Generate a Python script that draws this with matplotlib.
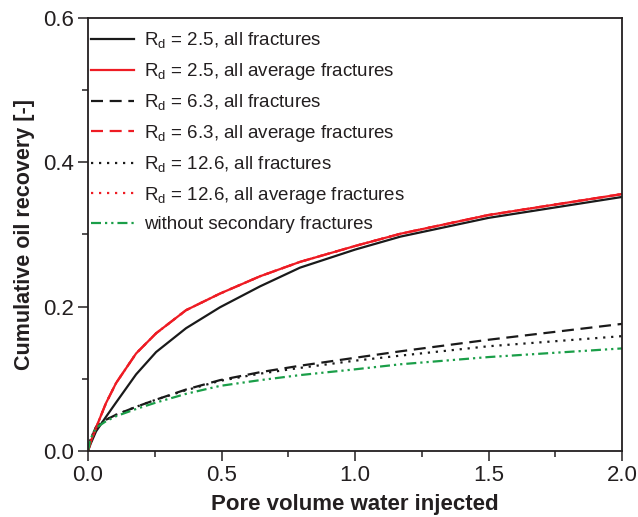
import numpy as np
import matplotlib
matplotlib.use('Agg')
import matplotlib.pyplot as plt
from matplotlib.ticker import MultipleLocator, FormatStrFormatter

plt.rcParams['font.family'] = ['Liberation Sans', 'DejaVu Sans']
plt.rcParams['mathtext.fontset'] = 'custom'
plt.rcParams['mathtext.rm'] = 'Liberation Sans'

#%% data
pv = [0.0, 0.01, 0.03, 0.067, 0.105, 0.18, 0.255, 0.367, 0.494, 0.644, 0.794, 1.0, 1.17, 1.5, 2.0]

rd25_all = [0.0, 0.010, 0.027, 0.047, 0.067, 0.106, 0.137, 0.170, 0.199, 0.228, 0.254, 0.279, 0.297, 0.323, 0.352]
rd25_avg = [0.0, 0.013, 0.032, 0.066, 0.094, 0.135, 0.163, 0.195, 0.218, 0.242, 0.262, 0.284, 0.301, 0.327, 0.356]
rd63_all = [0.0, 0.017, 0.033, 0.043, 0.050, 0.061, 0.071, 0.085, 0.098, 0.109, 0.118, 0.129, 0.138, 0.154, 0.176]
rd63_avg = rd25_avg
rd126_all = [0.0, 0.017, 0.033, 0.043, 0.050, 0.061, 0.071, 0.084, 0.097, 0.107, 0.115, 0.125, 0.132, 0.145, 0.159]
rd126_avg = rd25_avg
no_sec = [0.0, 0.017, 0.032, 0.041, 0.048, 0.058, 0.067, 0.079, 0.090, 0.098, 0.105, 0.113, 0.120, 0.130, 0.142]

labels = ['R$_\\mathregular{d}$ = 2.5, all fractures',
          'R$_\\mathregular{d}$ = 2.5, all average fractures',
          'R$_\\mathregular{d}$ = 6.3, all fractures',
          'R$_\\mathregular{d}$ = 6.3, all average fractures',
          'R$_\\mathregular{d}$ = 12.6, all fractures',
          'R$_\\mathregular{d}$ = 12.6, all average fractures',
          'without secondary fractures']

#%% plot
fig = plt.figure(figsize=(6.38, 5.17), dpi=100)
ax = fig.add_axes([0.138, 0.128, 0.837, 0.837])

lw = 1.6
black = '#1a1a1a'
red = '#ee1c24'
green = '#1a9e48'
ax.plot(pv, rd25_all, color=black, lw=lw, label=labels[0])
ax.plot(pv, rd25_avg, color=red, lw=lw, label=labels[1])
ax.plot(pv, rd63_all, color=black, lw=lw, dashes=(5.4, 3), label=labels[2])
ax.plot(pv, rd63_avg, color=red, lw=lw, dashes=(5.4, 3), label=labels[3])
ax.plot(pv, rd126_all, color=black, lw=lw, dashes=(1, 2.6), label=labels[4])
ax.plot(pv, rd126_avg, color=red, lw=lw, dashes=(1, 2.6), label=labels[5])
ax.plot(pv, no_sec, color=green, lw=lw, dashes=(4.5, 1.8, 1, 1.8, 1, 1.8), label=labels[6])

ax.set_xlim(0, 2.0)
ax.set_ylim(0, 0.6)
ax.xaxis.set_major_locator(MultipleLocator(0.5))
ax.xaxis.set_minor_locator(MultipleLocator(0.25))
ax.yaxis.set_major_locator(MultipleLocator(0.2))
ax.yaxis.set_minor_locator(MultipleLocator(0.1))
ax.xaxis.set_major_formatter(FormatStrFormatter('%.1f'))
ax.yaxis.set_major_formatter(FormatStrFormatter('%.1f'))
ax.tick_params(which='major', direction='out', length=7, width=1.1, labelsize=16,
               colors='#231f20', pad=3)
ax.tick_params(which='minor', direction='out', length=4, width=1.1, colors='#231f20')
ax.tick_params(which='both', top=False, right=False)
for s in ax.spines.values():
    s.set_linewidth(1.3)
    s.set_color('#231f20')

ax.set_xlabel('Pore volume water injected', fontsize=16, fontweight='bold', color='#231f20', labelpad=6)
ax.set_ylabel('Cumulative oil recovery [-]', fontsize=15.5, fontweight='bold', color='#231f20', labelpad=6)

ax.legend(loc='upper left', bbox_to_anchor=(-0.002, 0.98), frameon=False, fontsize=13.5,
          handlelength=2.3, handletextpad=0.55, labelspacing=0.55, borderpad=0.2,
          borderaxespad=0, labelcolor='#231f20')

fig.savefig('out.png', dpi=100)
